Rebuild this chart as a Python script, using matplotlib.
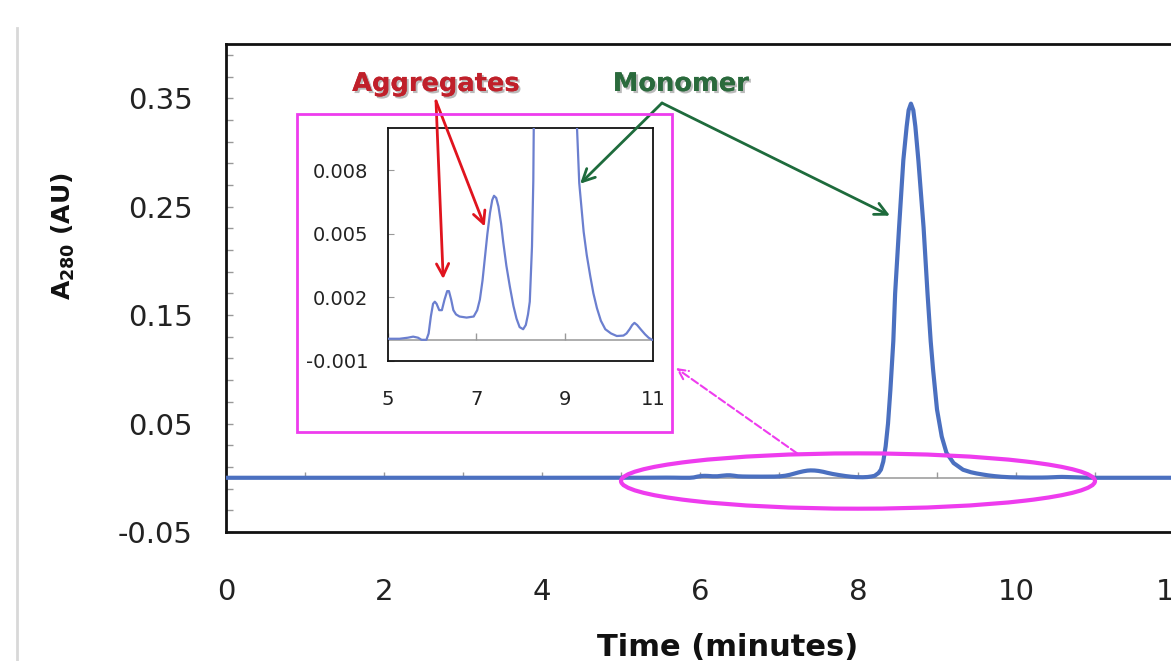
import numpy as np
import matplotlib.pyplot as plt
from matplotlib.patches import Ellipse, Rectangle
from matplotlib.lines import Line2D
import matplotlib.patheffects as pe

# --- chromatogram trace ---
time_min = [0.0, 1.0, 2.0, 3.0, 4.0, 5.0, 5.26, 5.45, 5.57, 5.68, 5.76, 5.87, 5.92, 5.97,
            6.02, 6.06, 6.10, 6.16, 6.22, 6.28, 6.34, 6.38, 6.43, 6.48, 6.54, 6.62, 6.78,
            6.94, 7.02, 7.08, 7.14, 7.19, 7.25, 7.31, 7.36, 7.40, 7.45, 7.50, 7.56, 7.61,
            7.68, 7.76, 7.84, 7.91, 7.98, 8.06, 8.12, 8.17, 8.21, 8.26, 8.29, 8.32, 8.35,
            8.38, 8.41, 8.447, 8.47, 8.52, 8.574, 8.616, 8.641, 8.67, 8.70, 8.726, 8.764,
            8.83, 8.88, 8.92, 8.95, 9.00, 9.06, 9.12, 9.21, 9.33, 9.43, 9.50, 9.58, 9.65,
            9.73, 9.82, 9.92, 10.05, 10.18, 10.33, 10.40, 10.47, 10.53, 10.58, 10.64, 10.72,
            10.82, 10.90, 10.98, 11.5, 12.0]
a280 = [0.0, 0.0, 0.0, 0.0, 0.0, 0.00005, 0.00005, 0.0001, 0.00015, 0.0001, 0.0, 0.0,
        0.0003, 0.0011, 0.0017, 0.0018, 0.0017, 0.0014, 0.0014, 0.0019, 0.0023, 0.0023,
        0.0019, 0.0014, 0.0012, 0.0011, 0.00105, 0.0011, 0.0014, 0.0019, 0.0028, 0.0038,
        0.0050, 0.0060, 0.0066, 0.0068, 0.0067, 0.0063, 0.0055, 0.0046, 0.0035, 0.0025,
        0.0016, 0.0010, 0.0006, 0.0005, 0.0007, 0.0012, 0.0018, 0.0044, 0.0075, 0.015,
        0.029, 0.050, 0.081, 0.126, 0.170, 0.231, 0.293, 0.324, 0.339, 0.345, 0.339, 0.324,
        0.293, 0.231, 0.170, 0.126, 0.100, 0.063, 0.038, 0.023, 0.0136, 0.0074, 0.0051,
        0.0040, 0.0030, 0.0022, 0.0015, 0.0009, 0.0005, 0.0003, 0.00018, 0.0002, 0.0003,
        0.0005, 0.0007, 0.0008, 0.0007, 0.0005, 0.00026, 0.0001, 0.0, 0.0, 0.0]

main_xticks = [0, 2, 4, 6, 8, 10, 12]
main_yticks = [-0.05, 0.05, 0.15, 0.25, 0.35]
inset_xticks = [5, 7, 9, 11]
inset_yticks = [-0.001, 0.002, 0.005, 0.008]

W, H = 1171, 661
fig = plt.figure(figsize=(W / 100, H / 100), dpi=100)
fig.patch.set_facecolor('white')

def px(x0, y0, x1, y1):
    # pixel box (top-left origin) -> figure fraction rect
    return [x0 / W, 1 - y1 / H, (x1 - x0) / W, (y1 - y0) / H]

blue = '#4b70c0'
magenta = '#ee3cee'

# main axes (right edge runs just past the picture, like the original)
ax = fig.add_axes(px(226, 44, 1174, 532))
ax.axhline(0, color='#a0a0a0', lw=1.2, zorder=1)
ax.plot(time_min, a280, color=blue, lw=3, zorder=3, solid_joinstyle='round')
ax.set_xlim(0, 12)
ax.set_ylim(-0.05, 0.40)
ax.set_xticks(main_xticks)
ax.set_xticklabels([str(t) for t in main_xticks])
ax.set_yticks(main_yticks)
ax.set_yticklabels(['%.2f' % v for v in main_yticks])
ax.set_yticks(np.arange(-0.05, 0.40, 0.02), minor=True)
ax.tick_params(axis='x', length=0, pad=33, labelsize=21, colors='#222222')
ax.tick_params(axis='y', which='both', direction='in', length=5, width=1,
               color='#999999', pad=24, labelsize=21, labelcolor='#222222')
ax.vlines(range(1, 12), 0, 0.005, color='#999999', lw=1, zorder=2)
for side in ['left', 'bottom', 'top', 'right']:
    ax.spines[side].set_linewidth(2)
    ax.spines[side].set_color('#111111')

# ellipse around the zoomed region
ax.add_patch(Ellipse((8.0, -0.003), 6.0, 0.051, fill=False, edgecolor=magenta,
                     lw=3, zorder=5, clip_on=False))

fig.text(728 / W, 1 - 648 / H, 'Time (minutes)', ha='center', va='center',
         fontsize=22, fontweight='bold', color='#111111')
fig.text(63 / W, 1 - 236 / H, r'$\mathbf{A_{280}}$ (AU)', ha='center', va='center',
         rotation=90, fontsize=18, fontweight='bold', color='#111111')

# magenta frame around inset
fig.add_artist(Rectangle((297 / W, 1 - 432 / H), 375 / W, 318 / H, transform=fig.transFigure,
                         fill=False, edgecolor=magenta, lw=2))

# inset axes
ins = fig.add_axes(px(388, 128, 653, 361))
ins.axhline(0, color='#a0a0a0', lw=1.2, zorder=1)
ins.plot(time_min, a280, color='#6b7fcf', lw=1.6, zorder=3, solid_joinstyle='round')
ins.set_xlim(5, 11)
ins.set_ylim(-0.001, 0.010)
ins.set_xticks(inset_xticks)
ins.set_xticklabels([str(t) for t in inset_xticks])
ins.set_yticks(inset_yticks)
ins.set_yticklabels(['%.3f' % v for v in inset_yticks])
ins.tick_params(axis='x', length=0, pad=21, labelsize=14, colors='#222222')
ins.tick_params(axis='y', direction='in', length=4, color='#999999', pad=14,
                labelsize=14, labelcolor='#222222')
ins.vlines(inset_xticks, 0, 0.0003, color='#999999', lw=1, zorder=2)
for side in ['left', 'bottom', 'top', 'right']:
    ins.spines[side].set_linewidth(1.3)
    ins.spines[side].set_color('#111111')

# labels with soft shadow
shadow = [pe.withSimplePatchShadow(offset=(1.5, -1.5), shadow_rgbFace='#777777', alpha=0.5),
          pe.Normal()]
fig.text(436 / W, 1 - 84 / H, 'Aggregates', ha='center', va='center', fontsize=18.5,
         fontweight='bold', color='#c0202a', path_effects=shadow)
fig.text(681 / W, 1 - 84 / H, 'Monomer', ha='center', va='center', fontsize=18.5,
         fontweight='bold', color='#2a6a3c', path_effects=shadow)

red = '#e0141e'
green = '#1e6b3c'
arr_r = dict(arrowstyle='->', color=red, lw=2, mutation_scale=22, shrinkA=0, shrinkB=0)
arr_g = dict(arrowstyle='->', color=green, lw=2, mutation_scale=22, shrinkA=0, shrinkB=0)
ins.annotate('', xy=(6.25, 0.00287), xytext=(436, H - 101), textcoords='figure pixels',
             arrowprops=arr_r, annotation_clip=False)
ins.annotate('', xy=(7.19, 0.00535), xytext=(436, H - 101), textcoords='figure pixels',
             arrowprops=arr_r, annotation_clip=False)
ins.annotate('', xy=(9.35, 0.00737), xytext=(662, H - 103), textcoords='figure pixels',
             arrowprops=arr_g, annotation_clip=False)
ax.annotate('', xy=(8.405, 0.2417), xytext=(662, H - 103), textcoords='figure pixels',
            arrowprops=arr_g, annotation_clip=False)

# dashed pointer from ellipse to inset frame
ax.annotate('', xy=(676, H - 368), xycoords='figure pixels', xytext=(7.23, 0.0225),
            textcoords='data',
            arrowprops=dict(arrowstyle='->', color=magenta, lw=1.5, linestyle='--',
                            mutation_scale=18, shrinkA=0, shrinkB=0))

# faint slide border at far left
fig.add_artist(Line2D([17 / W, 17 / W], [0, 1 - 28 / H], color='#d8d8d8', lw=2))

fig.savefig('out.png', dpi=100)
